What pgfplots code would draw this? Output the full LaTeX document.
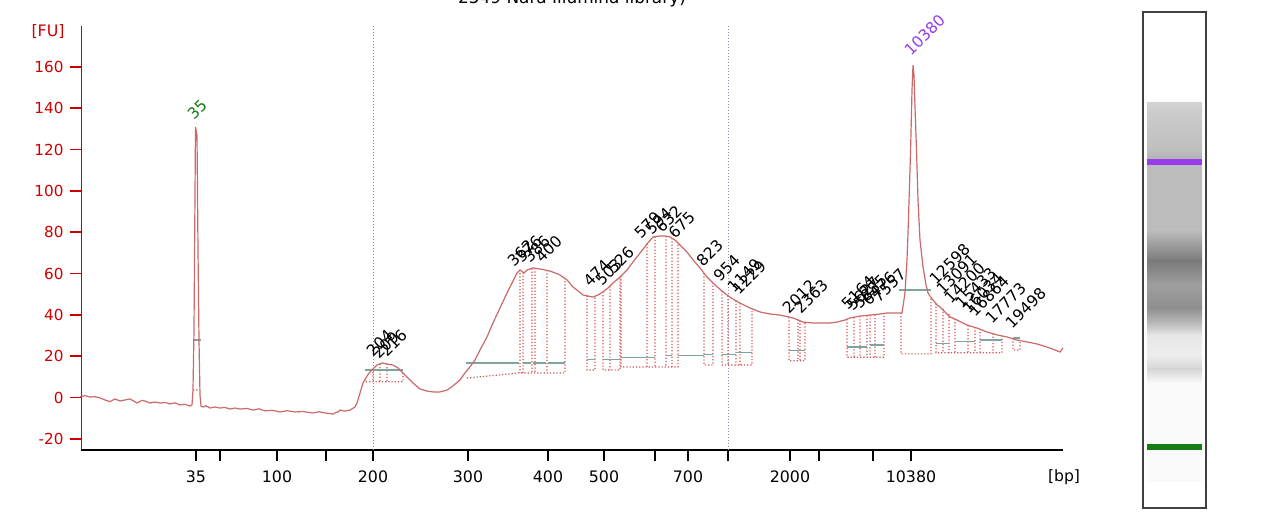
\documentclass[border=0pt]{standalone}
\usepackage{fontspec}
\setmainfont{DejaVu Sans}
\usepackage{pgfplots}
\pgfplotsset{compat=1.18}
\usepackage{pgfplotstable}

\definecolor{curve}{RGB}{205,105,105}
\definecolor{peakdot}{RGB}{215,80,80}
\definecolor{greyline}{RGB}{125,165,155}
\definecolor{guide}{RGB}{140,140,180}
\definecolor{fured}{RGB}{205,0,0}
\definecolor{ladgreen}{RGB}{20,125,20}
\definecolor{markpurple}{RGB}{150,60,235}

% electropherogram trace: x = migration position (px), y = fluorescence [FU]
\pgfplotstableread{
x y
80 0.4
85 0.9
90 0.2
95 0.4
100 -0.2
105 -1.2
110 -2.0
115 -0.7
120 -1.7
125 -1.2
130 -0.7
137 -2.7
142 -1.4
145 -1.7
150 -2.7
155 -2.2
160 -2.7
165 -2.4
170 -3.1
175 -2.6
180 -3.6
185 -3.3
190 -4.1
192 -3.6
193 3.6
194 32.7
195.5 130.9
197 127
198 71.4
199 27.8
200 1.2
201 -4.1
203 -4.6
206 -4.0
210 -5.1
215 -4.6
220 -5.1
225 -4.8
230 -5.6
235 -5.1
240 -5.6
247 -5.3
253 -6.1
259 -5.5
265 -6.5
272 -6.2
280 -7.0
287 -6.4
295 -7.0
303 -6.8
313 -7.5
319 -6.9
325 -7.5
333 -8.0
336 -7.2
338 -7.0
340 -6.1
345 -6.6
350 -6.1
355 -4.6
357 -2.7
360 2.2
363 7.0
367 10.4
370 12.3
373 13.8
377 15.7
382 16.7
387 16.2
393 15.7
398 14.3
403 11.9
408 9.4
413 7.0
420 4.1
427 3.1
433 2.7
440 2.7
447 3.6
453 5.6
460 8.5
465 11.9
470 14.8
475 18.2
480 23.0
487 29.3
493 36.1
500 43.3
507 50.6
512 55.4
517 60.3
520 61.7
524 60.3
527 61.7
533 62.7
540 62.2
545 61.7
550 61.2
555 60.3
560 59.3
567 56.9
573 53.5
578 51.6
583 49.6
588 49.1
593 48.6
598 49.6
603 51.1
608 53.0
613 55.4
620 58.3
627 61.7
633 65.6
640 69.9
647 74.3
653 77.7
660 78.2
665 78.2
670 77.7
675 76.2
680 73.8
687 70.4
693 66.6
700 62.7
707 58.3
715 54.5
723 51.1
731 48.2
740 45.7
750 43.3
760 41.4
770 40.4
780 39.9
793 38.5
803 36.5
812 36.1
820 36.1
830 36.1
837 36.5
845 37.5
850 38.5
860 39.4
870 39.9
880 40.4
887 40.9
895 40.9
902 40.9
905 50.6
907 66.6
908 79.6
910 110.1
911 128.0
912 148.8
913 160.9
914 156.0
915 140.6
916.5 119.8
918 95.6
920 76.2
923 63.2
926 54.5
928 50.6
930 49.1
933 47.2
937 44.8
940 43.8
945 41.4
950 39.0
957 37.5
967 35.1
977 33.6
987 31.7
997 30.3
1007 29.3
1017 27.8
1027 26.9
1037 25.9
1047 24.4
1055 23.0
1060 22.0
1063 24.0
}\trace

% dotted peak-region boundaries (segments separated by nan)
\pgfplotstableread{
x y
193 3.6
199 3.6
nan nan
365 8.7
365 7.6
403 7.6
403 11.9
nan nan
373 13.8
373 7.6
nan nan
380 16.3
380 7.6
nan nan
387 16.2
387 7.6
nan nan
467 9.4
520 11.9
565 11.9
565 57.5
nan nan
520 61.7
520 11.9
nan nan
523 60.5
523 11.9
nan nan
532 62.5
532 11.9
nan nan
535 62.6
535 11.9
nan nan
547 61.6
547 11.9
nan nan
587 49.3
587 13.3
595 13.3
595 49.2
nan nan
603 51.1
603 13.3
620 13.3
620 58.3
nan nan
610 53.9
610 13.3
nan nan
621 58.7
621 14.8
678 14.8
678 74.8
nan nan
647 74.3
647 14.8
nan nan
655 77.8
655 14.8
nan nan
666 78.1
666 14.8
nan nan
672 77.1
672 14.8
nan nan
704 60.2
704 15.7
713 15.7
713 55.4
nan nan
722 51.5
722 15.7
752 15.7
752 42.9
nan nan
728 49.3
728 15.7
nan nan
736 46.9
736 15.7
nan nan
740 45.7
740 15.7
nan nan
789 38.9
789 17.8
805 17.8
805 36.3
nan nan
798 37.8
798 17.8
nan nan
800 37.3
800 17.8
nan nan
847 37.9
847 19.5
884 19.5
884 40.6
nan nan
854 38.8
854 19.5
nan nan
860 39.4
860 19.5
nan nan
867 39.7
867 19.5
nan nan
870 39.9
870 19.5
nan nan
875 40.1
875 19.5
nan nan
901 40.9
901 21.1
931 21.1
931 48.0
nan nan
936 45.5
936 21.7
1002 21.7
1002 29.8
nan nan
943 43.0
943 21.7
nan nan
949 40.5
949 21.7
nan nan
955 38.0
955 21.7
nan nan
968 34.9
968 21.7
nan nan
975 34.0
975 21.7
nan nan
980 33.2
980 21.7
nan nan
993 31.0
993 21.7
nan nan
1013 28.7
1013 23.0
1020 23.0
1020 27.5
}\peaklines

% grey-green peak-height segments
\pgfplotstableread{
x y
193 27.8
201 27.8
nan nan
365 13.3
403 13.3
nan nan
466 16.6
519 16.6
nan nan
523 16.6
531 16.6
nan nan
533 16.6
546 16.6
nan nan
548 16.6
565 16.6
nan nan
587 18.5
595 18.5
nan nan
603 18.5
620 18.5
nan nan
621 19.3
655 19.3
nan nan
666 20.2
672 20.2
nan nan
678 20.2
704 20.2
nan nan
704 20.9
713 20.9
nan nan
722 20.9
736 20.9
nan nan
736 21.7
752 21.7
nan nan
789 22.7
805 22.7
nan nan
847 24.4
867 24.4
nan nan
870 25.4
884 25.4
nan nan
899 52.0
931 52.0
nan nan
936 26.2
949 26.2
nan nan
955 27.0
975 27.0
nan nan
980 27.8
1002 27.8
nan nan
1013 28.8
1020 28.8
}\greysegs

\begin{document}
\begin{tikzpicture}
\begin{axis}[
  x=0.5pt, y=1.033pt,
  xmin=81.5, xmax=1063, ymin=-25.3, ymax=179.9,
  axis x line=bottom, axis y line=left,
  axis line style={-},
  x axis line style={black, line width=0.9pt},
  y axis line style={fured, line width=0.9pt},
  xtick={196,220,277,326,373,468,548,604,655,688,728,790,819,873,911},
  xticklabels={35,,100,,200,300,400,500,,700,,2000,,,10380},
  ytick={-20,0,20,40,60,80,100,120,140,160},
  tick align=outside,
  major tick length=5.5pt,
  xtick style={black, line width=0.8pt},
  ytick style={fured, line width=0.8pt},
  yticklabel style={fured, font=\fontsize{7.6}{9}\selectfont},
  xticklabel style={black, font=\fontsize{7.9}{9}\selectfont, yshift=-1.5pt},
  /pgf/number format/assume math mode=true,
  clip=false,
  unbounded coords=jump,
]
\coordinate (tl) at (axis cs:0,192.40);
\coordinate (br) at (axis cs:1280,-65.10);
% guide lines
\addplot[guide, densely dotted, line width=0.5pt] coordinates {(373,-25.3) (373,179.9)};
\addplot[guide, densely dotted, line width=0.5pt] coordinates {(728,-25.3) (728,179.9)};
% peak regions
\addplot[peakdot, densely dotted, line width=0.6pt] table[x=x,y=y] {\peaklines};
\addplot[greyline, line width=0.7pt] table[x=x,y=y] {\greysegs};
% trace
\addplot[curve, line width=0.6pt] table[x=x,y=y] {\trace};
\end{axis}

\begin{scope}[shift={(tl)}, x=0.5pt, y=-0.5pt]
  % cut-off title
  \node[anchor=base, inner sep=0, font=\fontsize{8.45}{10}\selectfont] at (572,3.5) {2549 Nara Illumina library)};
  % axis unit labels
  \node[fured, font=\fontsize{7.9}{9}\selectfont] at (48,32) {[FU]};
  \node[black, font=\fontsize{7.8}{9}\selectfont] at (1064,477) {[bp]};
  % peak labels
  \begin{scope}[every node/.style={rotate=45, anchor=base west, inner sep=0, font=\fontsize{7.8}{9}\selectfont}]
  \node[ladgreen] at (194,121) {35};
  \node[markpurple] at (911,57) {10380};
  \node at (373,358) {204};
  \node at (379,360) {209};
  \node at (387,358) {216};
  \node at (514,268) {362};
  \node at (522,264) {376};
  \node at (530,264) {386};
  \node at (542,264) {400};
  \node at (590,288) {474};
  \node at (602,287) {503};
  \node at (614,275) {526};
  \node at (641,240) {579};
  \node at (652,236) {594};
  \node at (662,234) {632};
  \node at (675,240) {675};
  \node at (703,268) {823};
  \node at (720,283) {954};
  \node at (734,294) {1149};
  \node at (739,296) {1229};
  \node at (789,315) {2012};
  \node at (801,315) {2363};
  \node at (848,311) {5164};
  \node at (853,312) {5627};
  \node at (860,310) {5885};
  \node at (869,307) {6476};
  \node at (879,304) {7557};
  \node at (936,286) {12598};
  \node at (943,296) {13091};
  \node at (951,305) {14200};
  \node at (962,310) {15433};
  \node at (969,315) {16034};
  \node at (975,318) {16864};
  \node at (992,325) {17773};
  \node at (1012,330) {19498};
  \end{scope}
  % gel lane
  \shade[top color=black!17, bottom color=black!20] (1147,103) rectangle (1202,112);
  \shade[top color=black!20, bottom color=black!25] (1147,112) rectangle (1202,149);
  \shade[top color=black!25, bottom color=black!30] (1147,149) rectangle (1202,159);
  \shade[top color=black!26, bottom color=black!26] (1147,165) rectangle (1202,230);
  \shade[top color=black!26, bottom color=black!52] (1147,230) rectangle (1202,261);
  \shade[top color=black!52, bottom color=black!38] (1147,261) rectangle (1202,285);
  \shade[top color=black!38, bottom color=black!44] (1147,285) rectangle (1202,308);
  \shade[top color=black!44, bottom color=black!28] (1147,308) rectangle (1202,322);
  \shade[top color=black!28, bottom color=black!9] (1147,322) rectangle (1202,336);
  \shade[top color=black!9, bottom color=black!7] (1147,336) rectangle (1202,355);
  \shade[top color=black!7, bottom color=black!16] (1147,355) rectangle (1202,369);
  \shade[top color=black!16, bottom color=black!2] (1147,369) rectangle (1202,383);
  \fill[black!2] (1147,383) rectangle (1202,482);
  \fill[markpurple] (1147,159) rectangle (1202,165.5);
  \fill[ladgreen] (1147,444) rectangle (1202,450);
  \draw[black!75, line width=0.7pt] (1143,12) rectangle (1206,508);
\end{scope}
\pgfresetboundingbox
\useasboundingbox (tl) rectangle (br);
\end{tikzpicture}
\end{document}
